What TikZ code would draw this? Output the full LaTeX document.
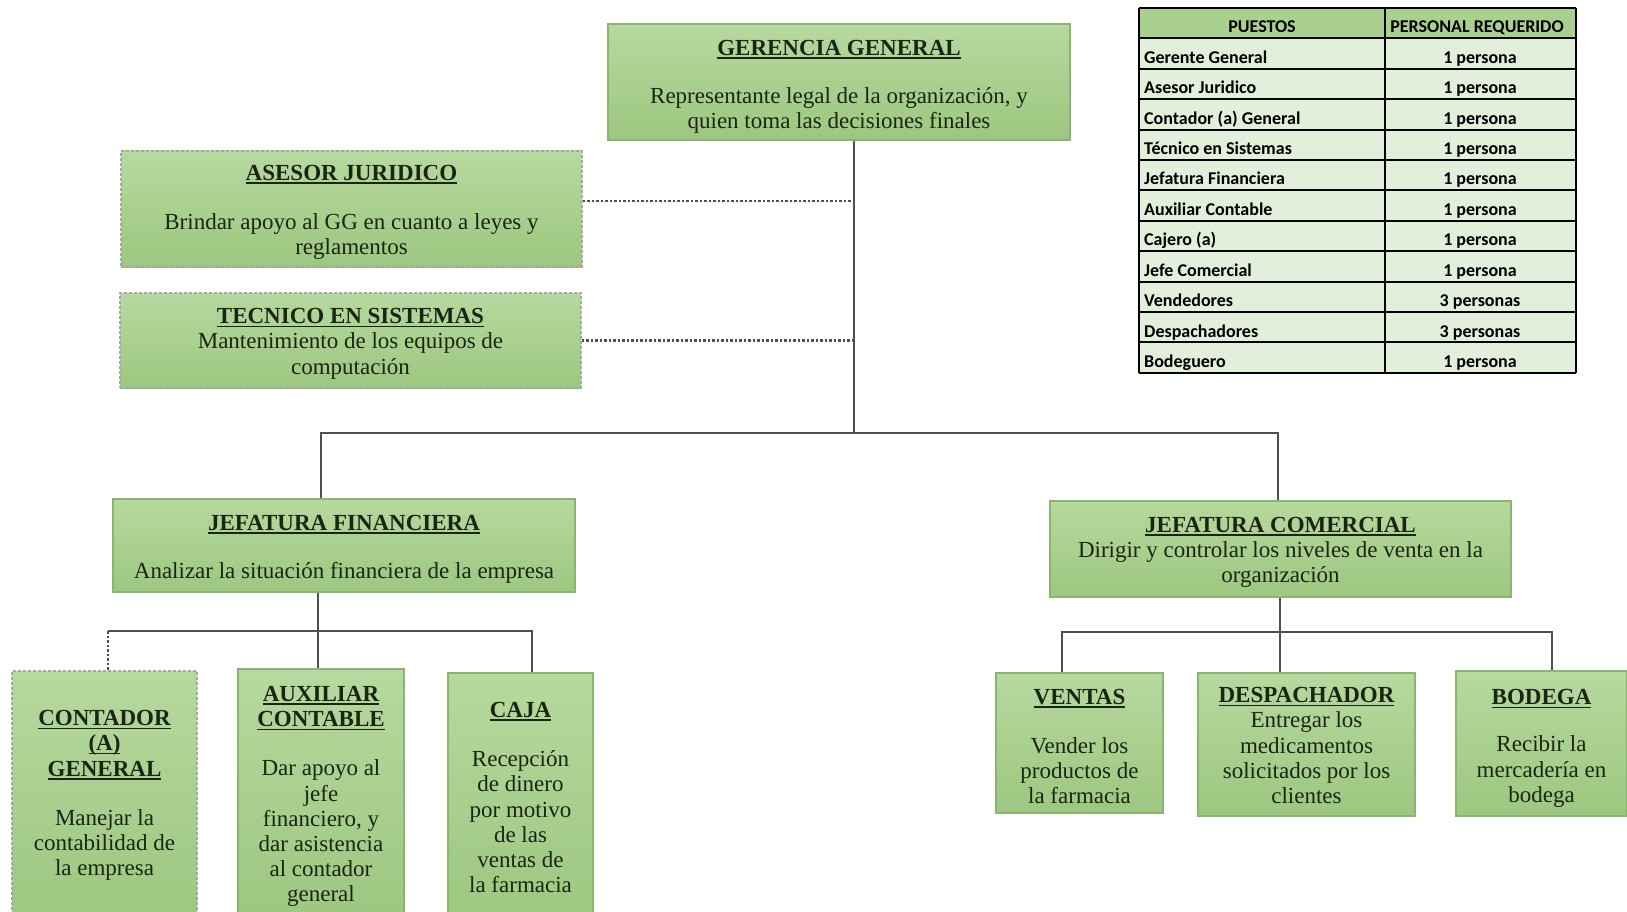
\documentclass[tikz,border=0pt]{standalone}
\usepackage{fontspec}
\setmainfont{Liberation Serif}
\newfontfamily\tablafont{Carlito}
\usetikzlibrary{positioning,calc}

\definecolor{verdeclaro}{HTML}{B6D99F}
\definecolor{verdeosc}{HTML}{9DC780}
\definecolor{bordecaja}{HTML}{8AB46F}
\definecolor{textocaja}{HTML}{1A2613}
\definecolor{lineagris}{HTML}{505050}
\definecolor{cabecera}{HTML}{A9D08E}
\definecolor{filaverde}{HTML}{E2EFDA}

% titulo subrayado; el opcional baja el texto dentro de la caja
\newsavebox{\titulobox}
\newcommand{\titulo}[2][0pt]{\rule{0pt}{#1}\textbf{\sbox{\titulobox}{#2}\rlap{\rule[-3.5pt]{\wd\titulobox}{1.6pt}}\usebox{\titulobox}}}

\tikzset{
	caja/.style={
		rectangle, inner sep=0pt, align=center,
		draw=bordecaja, line width=1.5pt,
		top color=verdeclaro, bottom color=verdeosc,
		text=textocaja, font=\fontsize{23}{25.2}\selectfont
	},
	%
	cajapunteada/.style={
		caja, draw=black!35, dash pattern=on 3pt off 2pt
	},
	%
	linea/.style={
		draw=lineagris, line width=2.5pt
	},
	%
	lineapunteada/.style={
		draw=lineagris, line width=2.5pt, dash pattern=on 2.5pt off 2pt
	},
	%
	celda/.style={
		inner sep=0pt, text=black, font=\tablafont\bfseries\fontsize{18}{20}\selectfont
	},
	%
	tablaborde/.style={
		draw=black, line width=2pt
	}
}

\begin{document}
\begin{tikzpicture}[x=1pt, y=-1pt]
    \useasboundingbox (0,0) rectangle (1627,912);
    \clip (0,0) rectangle (1627,912);
    % gerencia y asesores
    \node(gg)[caja, minimum width=462pt, minimum height=116pt] at (839,82)
        {\titulo[25pt]{GERENCIA GENERAL}\\[23pt]Representante legal de la organización, y\\quien toma las decisiones finales};
    \node(asesor)[cajapunteada, minimum width=461pt, minimum height=116pt] at (351.5,209)
        {\titulo[22.5pt]{ASESOR JURIDICO}\\[24pt]Brindar apoyo al GG en cuanto a leyes y\\reglamentos};
    \node(tecnico)[cajapunteada, minimum width=461pt, minimum height=95pt] at (350.5,340.5)
        {\titulo[21.5pt]{TECNICO EN SISTEMAS}\\Mantenimiento de los equipos de\\computación};
    % jefaturas
    \node(jf)[caja, minimum width=462pt, minimum height=93pt] at (344,545.5)
        {\titulo[22.5pt]{JEFATURA FINANCIERA}\\[23pt]Analizar la situación financiera de la empresa};
    \node(jc)[caja, minimum width=461pt, minimum height=96pt] at (1280.5,549)
        {\titulo[21.5pt]{JEFATURA COMERCIAL}\\Dirigir y controlar los niveles de venta en la\\organización};
    % area financiera
    \node(contador)[cajapunteada, minimum width=185pt, minimum height=249pt] at (104.5,795.5)
        {\titulo{CONTADOR}\\\titulo{(A)}\\\titulo{GENERAL}\\[24pt]Manejar la\\contabilidad de\\la empresa};
    \node(aux)[caja, minimum width=166pt, minimum height=251pt] at (321,794.5)
        {\titulo[19.5pt]{AUXILIAR}\\\titulo{CONTABLE}\\[24pt]Dar apoyo al\\jefe\\financiero, y\\dar asistencia\\al contador\\general};
    \node(caja)[caja, minimum width=145pt, minimum height=247pt] at (520.5,796.5)
        {\titulo[17.5pt]{CAJA}\\[24pt]Recepción\\de dinero\\por motivo\\de las\\ventas de\\la farmacia};
    % area comercial
    \node(ventas)[caja, minimum width=167pt, minimum height=140pt] at (1079.5,743)
        {\titulo[22.5pt]{VENTAS}\\[24pt]Vender los\\productos de\\la farmacia};
    \node(desp)[caja, minimum width=217pt, minimum height=143pt] at (1306.5,744.5)
        {\titulo[17.5pt]{DESPACHADOR}\\Entregar los\\medicamentos\\solicitados por los\\clientes};
    \node(bodega)[caja, minimum width=171pt, minimum height=145pt] at (1541.5,743.5)
        {\titulo[25pt]{BODEGA}\\[22pt]Recibir la\\mercadería en\\bodega};
    % conectores
    \coordinate(tronco) at (854,433);
    \coordinate(ramaizq) at (321,433);
    \coordinate(ramader) at (1278,433);
    \draw[linea] (gg.south -| tronco) -- (tronco);
    \draw[linea] (jf.north -| ramaizq) -- (ramaizq) -- (ramader) -- (jc.north -| ramader);
    \draw[lineapunteada] ([yshift=8pt]asesor.east) -- ([yshift=8pt]asesor.east -| tronco);
    \draw[lineapunteada] (tecnico.east) -- (tecnico.east -| tronco);
    \coordinate(fa) at (108,631);
    \coordinate(fb) at (318,631);
    \coordinate(fc) at (532,631);
    \draw[linea] (jf.south -| fb) -- (fb) -- (aux.north -| fb);
    \draw[linea] (fa) -- (fc) -- (caja.north -| fc);
    \draw[lineapunteada] (fa) -- (contador.north -| fa);
    \coordinate(ca) at (1062,632);
    \coordinate(cb) at (1280,632);
    \coordinate(cc) at (1552,632);
    \draw[linea] (jc.south -| cb) -- (cb) -- (desp.north -| cb);
    \draw[linea] (ventas.north -| ca) -- (ca) -- (cc) -- (bodega.north -| cc);
    % tabla de puestos
    \fill[cabecera] (1139,8) rectangle (1576,38.4);
    \fill[filaverde] (1139,38.4) rectangle (1576,372.8);
    \foreach \i in {0,...,12}
        \draw[tablaborde] (1139,{8+30.4*\i}) -- (1576,{8+30.4*\i});
    \foreach \x in {1139,1385,1576}
        \draw[tablaborde] (\x,8) -- (\x,372.8);
    \node(hpuestos)[celda, anchor=base] at (1262,32.5) {PUESTOS};
    \node(hpersonal)[celda, anchor=base] at (1477,32.5) {PERSONAL REQUERIDO};
    \foreach \txt/\num [count=\i] in {Gerente General/1 persona, Asesor Juridico/1 persona,
        Contador (a) General/1 persona, Técnico en Sistemas/1 persona, Jefatura Financiera/1 persona,
        Auxiliar Contable/1 persona, Cajero (a)/1 persona, Jefe Comercial/1 persona,
        Vendedores/3 personas, Despachadores/3 personas, Bodeguero/1 persona}{
        \node(puesto\i)[celda, anchor=base west] at (1144,{33+30.4*\i}) {\txt};
        \node(cant\i)[celda, anchor=base] at (1480,{33+30.4*\i}) {\num};
    }
\end{tikzpicture}
\end{document}
